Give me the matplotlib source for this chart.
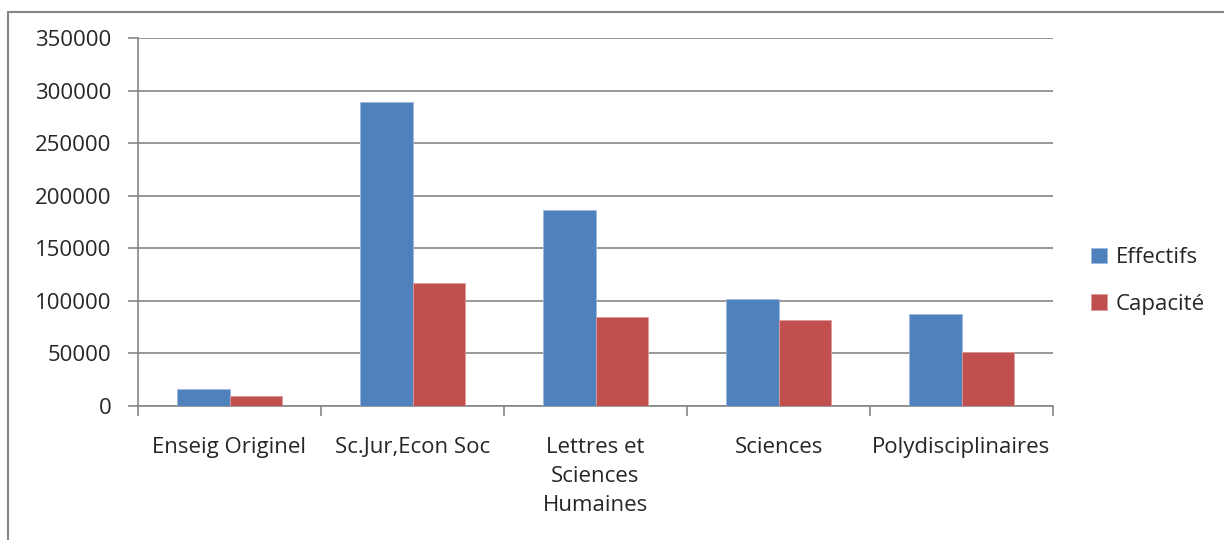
import matplotlib
matplotlib.use("Agg")
import matplotlib.pyplot as plt
import numpy as np
from matplotlib.patches import Rectangle

categories = ["Enseig Originel", "Sc.Jur,Econ Soc", "Lettres et\nSciences\nHumaines", "Sciences", "Polydisciplinaires"]
effectifs = [15900, 289500, 186500, 101500, 87200]
capacite = [9200, 116700, 84900, 81500, 51000]
series_names = ["Effectifs", "Capacité"]
yticks = [0, 50000, 100000, 150000, 200000, 250000, 300000, 350000]

blue = "#4F81BD"
red = "#C0504D"
grid_c = "#868686"
text_c = "#262626"

plt.rcParams["font.family"] = ["Open Sans", "DejaVu Sans"]
FS = 16

fig = plt.figure(figsize=(12.24, 5.40), dpi=100)
ax = fig.add_axes([138/1224, 1-406/540, (1053-138)/1224, (406-38)/540])

x = np.arange(len(categories))
w = 0.285
ax.bar(x - w/2, effectifs, w, color=blue, edgecolor="#9DB8DD", linewidth=0.6, label=series_names[0], zorder=3)
ax.bar(x + w/2, capacite, w, color=red, edgecolor="#DE9A98", linewidth=0.6, label=series_names[1], zorder=3)

ax.set_xlim(-0.5, len(categories) - 0.5)
ax.set_ylim(0, 350000)
ax.set_yticks(yticks)
ax.set_yticklabels([str(v) for v in yticks], fontsize=FS, color=text_c)
ax.yaxis.grid(True, color=grid_c, linewidth=1.2, zorder=0)
ax.set_axisbelow(True)

ax.set_xticks(x)
ax.set_xticklabels(categories, fontsize=FS, color=text_c, linespacing=1.5, va="top")
ax.tick_params(axis="x", length=0, pad=22)
ax.set_xticks(np.arange(len(categories) + 1) - 0.5, minor=True)
ax.tick_params(axis="x", which="minor", length=7, color=grid_c, width=1.2)
ax.tick_params(axis="y", length=7, color=grid_c, width=1.2, pad=12)

for s in ["top", "right"]:
    ax.spines[s].set_visible(False)
for s in ["left", "bottom"]:
    ax.spines[s].set_color(grid_c)
    ax.spines[s].set_linewidth(1.2)

leg = fig.legend(loc="center left", bbox_to_anchor=(1071/1224, 1-281/540), frameon=False,
                 fontsize=FS, handlelength=0.7, handleheight=0.7, handletextpad=0.4,
                 labelspacing=1.15, labelcolor=text_c)

fig.add_artist(Rectangle((8/1224, -0.1), 1.2, 1-12/540+0.1, transform=fig.transFigure,
                         fill=False, edgecolor=grid_c, linewidth=1.5, clip_on=False))

fig.savefig("out.png", dpi=100)
